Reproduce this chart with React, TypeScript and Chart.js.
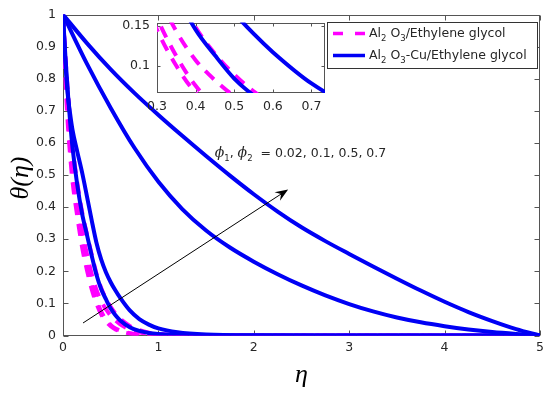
import React, { useEffect, useRef } from 'react';
import { Chart, registerables } from 'chart.js';

Chart.register(...registerables);

// ---------------- data ----------------
const etaSteep = [0, 0.025, 0.05, 0.075, 0.1, 0.15, 0.2, 0.25, 0.3, 0.35, 0.4, 0.45, 0.5, 0.55, 0.6, 0.7, 0.8, 0.9, 1.0, 1.2, 1.5, 2, 3, 4, 5];
const etaBroad = [0, 0.25, 0.5, 0.75, 1, 1.25, 1.5, 1.75, 2, 2.25, 2.5, 2.75, 3, 3.25, 3.5, 3.75, 4, 4.25, 4.5, 4.75, 5];

// Al2O3-Cu/Ethylene glycol (solid blue)
const thetaHybrid1 = [1, 0.87, 0.76, 0.665, 0.585, 0.468, 0.38, 0.315, 0.25, 0.19, 0.145, 0.113, 0.084, 0.063, 0.047, 0.026, 0.0145, 0.008, 0.0045, 0.0015, 0.0003, 0, 0, 0, 0];
const thetaHybrid2 = [1, 0.85, 0.75, 0.69, 0.64, 0.572, 0.508, 0.435, 0.36, 0.29, 0.237, 0.197, 0.166, 0.14, 0.117, 0.078, 0.051, 0.034, 0.022, 0.01, 0.003, 0.0005, 0, 0, 0];
const thetaHybrid3 = [1, 0.847, 0.709, 0.584, 0.479, 0.394, 0.327, 0.274, 0.23, 0.191, 0.156, 0.125, 0.098, 0.075, 0.056, 0.041, 0.029, 0.019, 0.011, 0.005, 0];
const thetaHybrid4 = [1, 0.911, 0.829, 0.755, 0.687, 0.622, 0.559, 0.498, 0.44, 0.386, 0.337, 0.294, 0.254, 0.215, 0.177, 0.14, 0.105, 0.073, 0.045, 0.02, 0];

// Al2O3/Ethylene glycol (dashed magenta)
const thetaMono1 = [1, 0.8, 0.66, 0.56, 0.48, 0.37, 0.275, 0.205, 0.145, 0.1, 0.066, 0.044, 0.029, 0.019, 0.013, 0.006, 0.0025, 0.001, 0.0005, 0, 0, 0, 0, 0, 0];
const thetaMono2 = [1, 0.83, 0.7, 0.6, 0.52, 0.4, 0.3, 0.222, 0.16, 0.112, 0.075, 0.05, 0.033, 0.022, 0.015, 0.007, 0.003, 0.0012, 0.0005, 0.0001, 0, 0, 0, 0, 0];
const thetaMono3 = [1, 0.85, 0.73, 0.63, 0.55, 0.43, 0.33, 0.255, 0.192, 0.143, 0.107, 0.082, 0.062, 0.047, 0.035, 0.019, 0.01, 0.005, 0.0025, 0.0006, 0.0001, 0, 0, 0, 0];
const thetaMono4 = [1, 0.87, 0.765, 0.67, 0.59, 0.475, 0.385, 0.317, 0.253, 0.194, 0.148, 0.115, 0.089, 0.068, 0.052, 0.03, 0.017, 0.009, 0.005, 0.0015, 0.0003, 0, 0, 0, 0];

// ticks
const xTicksMain = [0, 1, 2, 3, 4, 5];
const xTickLabelsMain = ['0', '1', '2', '3', '4', '5'];
const yTicksMain = [0, 0.1, 0.2, 0.3, 0.4, 0.5, 0.6, 0.7, 0.8, 0.9, 1];
const yTickLabelsMain = ['0', '0.1', '0.2', '0.3', '0.4', '0.5', '0.6', '0.7', '0.8', '0.9', '1'];
const xTicksInset = [0.3, 0.4, 0.5, 0.6, 0.7];
const xTickLabelsInset = ['0.3', '0.4', '0.5', '0.6', '0.7'];
const yTicksInset = [0.1, 0.15];
const yTickLabelsInset = ['0.1', '0.15'];
const insetXRange = [0.3, 0.735];
const insetYRange = [0.066, 0.154];

// texts
const legendLabels = ['Al_2 O_3/Ethylene glycol', 'Al_2 O_3-Cu/Ethylene glycol'];
const annotationText = 'ϕ_1, ϕ_2  = 0.02, 0.1, 0.5, 0.7';
const annotationAt = [1.59, 0.556];
const arrowFrom = [0.21, 0.039];
const arrowTo = [2.36, 0.455];
const xTitle = 'η';
const yTitle = 'θ(η)';

// ---------------- styles ----------------
const BLUE = '#0000f5';
const MAGENTA = '#ff00ff';
const FRAME = '#555555';
const TEXT = '#262626';
const SANS = '"DejaVu Sans", "Liberation Sans", sans-serif';
const SERIF = '"Liberation Serif", "DejaVu Serif", serif';
const DASH = [12, 9];

const pts = (xs: number[], ys: number[]) => xs.map((x, i) => ({ x, y: ys[i] }));

function makeDatasets(clip: any) {
  const base = { pointRadius: 0, borderWidth: 4, cubicInterpolationMode: 'monotone', fill: false, clip };
  const blue = [
    [etaSteep, thetaHybrid1],
    [etaSteep, thetaHybrid2],
    [etaBroad, thetaHybrid3],
    [etaBroad, thetaHybrid4],
  ].map(([xs, ys]) => ({ ...base, data: pts(xs, ys), borderColor: BLUE }));
  const mag = [thetaMono1, thetaMono2, thetaMono3, thetaMono4].map((ys) => ({
    ...base,
    data: pts(etaSteep, ys),
    borderColor: MAGENTA,
    borderDash: DASH,
  }));
  return [...blue, ...mag];
}

function drawRich(ctx: CanvasRenderingContext2D, text: string, x: number, y: number, size: number) {
  let cx = x;
  let i = 0;
  ctx.textAlign = 'left';
  ctx.textBaseline = 'alphabetic';
  while (i < text.length) {
    const ch = text[i];
    if (ch === '_') {
      const s = text[i + 1];
      ctx.font = `${size * 0.68}px ${SANS}`;
      ctx.fillText(s, cx, y + size * 0.32);
      cx += ctx.measureText(s).width;
      i += 2;
      continue;
    }
    if (ch === 'ϕ') {
      ctx.font = `italic ${size * 1.12}px "DejaVu Serif", serif`;
      ctx.fillText(ch, cx, y);
      cx += ctx.measureText(ch).width;
      i += 1;
      continue;
    }
    let run = '';
    while (i < text.length && text[i] !== '_' && text[i] !== 'ϕ') {
      run += text[i];
      i++;
    }
    ctx.font = `${size}px ${SANS}`;
    ctx.fillText(run, cx, y);
    cx += ctx.measureText(run).width;
  }
}

function framePlugin(id: string, xT: number[], yT: number[], tickLen: number, fillWhite: boolean) {
  return {
    id,
    beforeDatasetsDraw(chart: any) {
      const { ctx, chartArea: a, scales } = chart;
      const xs = scales.x;
      const ys = scales.y;
      ctx.save();
      const L = Math.round(a.left) + 0.5;
      const R = Math.round(a.right) - 0.5;
      const T = Math.round(a.top) + 0.5;
      const B = Math.round(a.bottom) - 0.5;
      if (fillWhite) {
        ctx.fillStyle = '#ffffff';
        ctx.fillRect(a.left, a.top, a.right - a.left, a.bottom - a.top);
      }
      ctx.strokeStyle = FRAME;
      ctx.lineWidth = 1;
      ctx.strokeRect(L, T, R - L, B - T);
      ctx.beginPath();
      xT.forEach((v) => {
        const px = Math.round(xs.getPixelForValue(v)) + 0.5;
        ctx.moveTo(px, B);
        ctx.lineTo(px, B - tickLen);
        ctx.moveTo(px, T);
        ctx.lineTo(px, T + tickLen);
      });
      yT.forEach((v) => {
        const py = Math.round(ys.getPixelForValue(v)) + 0.5;
        ctx.moveTo(L, py);
        ctx.lineTo(L + tickLen, py);
        ctx.moveTo(R, py);
        ctx.lineTo(R - tickLen, py);
      });
      ctx.stroke();
      ctx.restore();
    },
  };
}

const decorPlugin = {
  id: 'decor',
  afterDraw(chart: any) {
    const { ctx, scales } = chart;
    const xs = scales.x;
    const ys = scales.y;
    ctx.save();

    // arrow
    const x0 = xs.getPixelForValue(arrowFrom[0]);
    const y0 = ys.getPixelForValue(arrowFrom[1]);
    const x1 = xs.getPixelForValue(arrowTo[0]);
    const y1 = ys.getPixelForValue(arrowTo[1]);
    const len = Math.hypot(x1 - x0, y1 - y0);
    const ux = (x1 - x0) / len;
    const uy = (y1 - y0) / len;
    const px = -uy;
    const py = ux;
    const HL = 13;
    const HW = 5;
    ctx.strokeStyle = '#000';
    ctx.lineWidth = 1;
    ctx.beginPath();
    ctx.moveTo(x0, y0);
    ctx.lineTo(x1 - ux * HL * 0.6, y1 - uy * HL * 0.6);
    ctx.stroke();
    ctx.fillStyle = '#000';
    ctx.beginPath();
    ctx.moveTo(x1, y1);
    ctx.lineTo(x1 - ux * HL + px * HW, y1 - uy * HL + py * HW);
    ctx.lineTo(x1 - ux * HL * 0.65, y1 - uy * HL * 0.65);
    ctx.lineTo(x1 - ux * HL - px * HW, y1 - uy * HL - py * HW);
    ctx.closePath();
    ctx.fill();

    // annotation
    ctx.fillStyle = TEXT;
    drawRich(ctx, annotationText, xs.getPixelForValue(annotationAt[0]), ys.getPixelForValue(annotationAt[1]), 12.5);

    // axis titles
    ctx.fillStyle = '#000';
    ctx.font = `italic 26px ${SERIF}`;
    ctx.textAlign = 'center';
    ctx.textBaseline = 'alphabetic';
    ctx.fillText(xTitle, (chart.chartArea.left + chart.chartArea.right) / 2, 382);
    ctx.save();
    ctx.translate(21, 178);
    ctx.rotate(-Math.PI / 2);
    ctx.textBaseline = 'middle';
    ctx.fillText(yTitle, 0, 0);
    ctx.restore();

    // legend
    const lx = 327.5;
    const ly = 22.5;
    const lw = 210;
    const lh = 46;
    ctx.fillStyle = '#fff';
    ctx.fillRect(lx, ly, lw, lh);
    ctx.strokeStyle = '#333';
    ctx.lineWidth = 1;
    ctx.strokeRect(lx, ly, lw, lh);
    const entries = [
      { color: MAGENTA, dash: [10, 12], label: legendLabels[0] },
      { color: BLUE, dash: [], label: legendLabels[1] },
    ];
    entries.forEach((e, i) => {
      const yl = 33.5 + i * 22;
      ctx.save();
      ctx.strokeStyle = e.color;
      ctx.lineWidth = 3.5;
      ctx.setLineDash(e.dash);
      ctx.beginPath();
      ctx.moveTo(333, yl);
      ctx.lineTo(365, yl);
      ctx.stroke();
      ctx.restore();
      ctx.fillStyle = TEXT;
      drawRich(ctx, e.label, 369, yl + 3, 12.5);
    });

    ctx.restore();
  },
};

const tickFont = { family: SANS, size: 12.5 };

export default function App() {
  const mainRef = useRef<HTMLCanvasElement>(null);
  const insetRef = useRef<HTMLCanvasElement>(null);

  useEffect(() => {
    const main = new Chart(mainRef.current as HTMLCanvasElement, {
      type: 'line',
      data: { datasets: makeDatasets(undefined) as any },
      options: {
        animation: false,
        responsive: false,
        devicePixelRatio: 1,
        events: [],
        layout: { padding: { left: 0, right: 10, top: 11, bottom: 0 } },
        plugins: { legend: { display: false }, tooltip: { enabled: false } },
        scales: {
          x: {
            type: 'linear',
            min: 0,
            max: 5,
            grid: { display: false, drawTicks: false },
            border: { display: false },
            afterBuildTicks: (s: any) => {
              s.ticks = xTicksMain.map((v) => ({ value: v }));
            },
            afterFit: (s: any) => {
              s.height = 61.5;
            },
            ticks: {
              autoSkip: false,
              maxRotation: 0,
              padding: 5,
              color: TEXT,
              font: tickFont,
              callback: (_v: any, i: number) => xTickLabelsMain[i],
            },
          },
          y: {
            type: 'linear',
            min: 0,
            max: 1,
            grid: { display: false, drawTicks: false },
            border: { display: false },
            afterBuildTicks: (s: any) => {
              s.ticks = yTicksMain.map((v) => ({ value: v }));
            },
            afterFit: (s: any) => {
              s.width = 63;
            },
            ticks: {
              autoSkip: false,
              padding: 7,
              color: TEXT,
              font: tickFont,
              callback: (_v: any, i: number) => yTickLabelsMain[i],
            },
          },
        },
      } as any,
      plugins: [framePlugin('frameMain', xTicksMain, yTicksMain, 5, false), decorPlugin] as any,
    });

    const inset = new Chart(insetRef.current as HTMLCanvasElement, {
      type: 'line',
      data: { datasets: makeDatasets(0) as any },
      options: {
        animation: false,
        responsive: false,
        devicePixelRatio: 1,
        events: [],
        layout: { padding: { left: 0, right: 15, top: 22.5, bottom: 0 } },
        plugins: { legend: { display: false }, tooltip: { enabled: false } },
        scales: {
          x: {
            type: 'linear',
            min: insetXRange[0],
            max: insetXRange[1],
            grid: { display: false, drawTicks: false },
            border: { display: false },
            afterBuildTicks: (s: any) => {
              s.ticks = xTicksInset.map((v) => ({ value: v }));
            },
            afterFit: (s: any) => {
              s.height = 22;
            },
            ticks: {
              autoSkip: false,
              maxRotation: 0,
              padding: 6,
              color: TEXT,
              font: tickFont,
              callback: (_v: any, i: number) => xTickLabelsInset[i],
            },
          },
          y: {
            type: 'linear',
            min: insetYRange[0],
            max: insetYRange[1],
            grid: { display: false, drawTicks: false },
            border: { display: false },
            afterBuildTicks: (s: any) => {
              s.ticks = yTicksInset.map((v) => ({ value: v }));
            },
            afterFit: (s: any) => {
              s.width = 57;
            },
            ticks: {
              autoSkip: false,
              padding: 7,
              color: TEXT,
              font: tickFont,
              callback: (_v: any, i: number) => yTickLabelsInset[i],
            },
          },
        },
      } as any,
      plugins: [framePlugin('frameInset', xTicksInset, yTicksInset, 3, true)] as any,
    });

    return () => {
      main.destroy();
      inset.destroy();
    };
  }, []);

  return (
    <div style={{ position: 'fixed', left: 0, top: 0, width: 550, height: 397, background: '#fff' }}>
      <canvas ref={mainRef} width={550} height={397} style={{ position: 'absolute', left: 0, top: 0, width: 550, height: 397 }} />
      <canvas ref={insetRef} width={240} height={115} style={{ position: 'absolute', left: 100, top: 0, width: 240, height: 115 }} />
    </div>
  );
}
